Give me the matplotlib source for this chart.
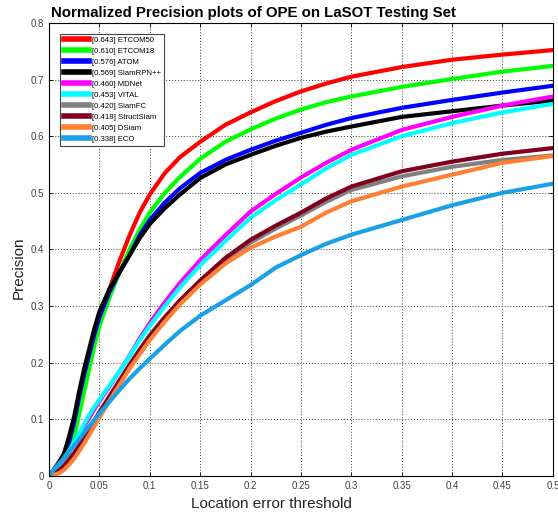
import numpy as np
import matplotlib
matplotlib.use("Agg")
import matplotlib.pyplot as plt

plt.rcParams['font.family'] = ['Liberation Sans', 'DejaVu Sans']

thresholds = [0, 0.005, 0.01, 0.015, 0.02, 0.025, 0.03, 0.035, 0.04, 0.045, 0.05,
              0.06, 0.07, 0.08, 0.09, 0.1, 0.115, 0.13, 0.15, 0.175, 0.2, 0.225,
              0.25, 0.275, 0.3, 0.35, 0.4, 0.45, 0.5]

trackers = ['ETCOM50', 'ETCOM18', 'ATOM', 'SiamRPN++', 'MDNet', 'VITAL',
            'SiamFC', 'StructSiam', 'DSiam', 'ECO']
scores = [0.643, 0.610, 0.576, 0.569, 0.460, 0.453, 0.420, 0.418, 0.405, 0.338]

etcom50 = [0, 0.005, 0.012, 0.025, 0.045, 0.08, 0.12, 0.16, 0.2, 0.24, 0.275,
           0.33, 0.38, 0.425, 0.465, 0.497, 0.535, 0.563, 0.59, 0.62, 0.642, 0.662,
           0.679, 0.693, 0.705, 0.722, 0.735, 0.744, 0.752]
etcom18 = [0, 0.005, 0.012, 0.022, 0.04, 0.07, 0.11, 0.15, 0.19, 0.23, 0.265,
           0.315, 0.36, 0.4, 0.435, 0.465, 0.5, 0.528, 0.56, 0.59, 0.612, 0.631,
           0.647, 0.66, 0.67, 0.687, 0.701, 0.714, 0.724]
atom = [0, 0.008, 0.02, 0.035, 0.06, 0.095, 0.14, 0.18, 0.215, 0.25, 0.28,
        0.325, 0.36, 0.39, 0.425, 0.452, 0.483, 0.508, 0.535, 0.558, 0.576, 0.592,
        0.606, 0.62, 0.632, 0.65, 0.664, 0.677, 0.689]
siamrpn = [0, 0.012, 0.025, 0.04, 0.07, 0.105, 0.15, 0.19, 0.225, 0.26, 0.29,
           0.33, 0.36, 0.39, 0.42, 0.445, 0.473, 0.497, 0.526, 0.55, 0.567, 0.583,
           0.597, 0.608, 0.617, 0.634, 0.644, 0.654, 0.663]
mdnet = [0, 0.008, 0.018, 0.03, 0.043, 0.057, 0.072, 0.088, 0.103, 0.118, 0.132,
         0.158, 0.185, 0.213, 0.243, 0.27, 0.307, 0.341, 0.381, 0.425, 0.467, 0.498,
         0.527, 0.553, 0.576, 0.611, 0.634, 0.654, 0.670]
vital = [0, 0.01, 0.02, 0.032, 0.045, 0.06, 0.075, 0.092, 0.108, 0.122, 0.135,
         0.16, 0.185, 0.212, 0.24, 0.265, 0.3, 0.333, 0.372, 0.415, 0.456, 0.487,
         0.515, 0.543, 0.567, 0.60, 0.623, 0.642, 0.657]
siamfc = [0, 0.004, 0.01, 0.018, 0.029, 0.041, 0.054, 0.068, 0.083, 0.098, 0.113,
          0.141, 0.169, 0.197, 0.224, 0.249, 0.281, 0.31, 0.344, 0.382, 0.412, 0.437,
          0.46, 0.484, 0.505, 0.529, 0.546, 0.558, 0.566]
structsiam = [0, 0.004, 0.01, 0.018, 0.028, 0.04, 0.053, 0.067, 0.082, 0.097, 0.112,
              0.14, 0.168, 0.196, 0.222, 0.247, 0.28, 0.31, 0.345, 0.385, 0.417, 0.442,
              0.465, 0.49, 0.511, 0.538, 0.555, 0.569, 0.579]
dsiam = [0, 0.002, 0.005, 0.011, 0.02, 0.031, 0.044, 0.058, 0.073, 0.088, 0.103,
         0.133, 0.161, 0.19, 0.215, 0.24, 0.273, 0.303, 0.338, 0.375, 0.403, 0.423,
         0.44, 0.465, 0.485, 0.511, 0.532, 0.553, 0.565]
eco = [0, 0.012, 0.022, 0.032, 0.043, 0.054, 0.065, 0.077, 0.088, 0.099, 0.11,
       0.131, 0.152, 0.172, 0.19, 0.207, 0.232, 0.256, 0.283, 0.31, 0.337, 0.368,
       0.39, 0.41, 0.426, 0.452, 0.478, 0.50, 0.516]

series = [etcom50, etcom18, atom, siamrpn, mdnet, vital, siamfc, structsiam, dsiam, eco]
colors = ['#ff0000', '#00ff00', '#0000ff', '#000000', '#ff00ff', '#00ffff',
          '#808080', '#800020', '#ff8033', '#1aa0e6']

fig = plt.figure(figsize=(5.58, 5.12), dpi=100)
ax = fig.add_axes([0.0878, 0.0703, 0.903, 0.885])

for name, sc, ys, c in zip(trackers, scores, series, colors):
    ax.plot(thresholds, ys, color=c, lw=3, label=f'[{sc:.3f}] {name}',
            solid_joinstyle='round')

ax.set_xlim(0, 0.5)
ax.set_ylim(0, 0.8)
xt = np.arange(0, 0.501, 0.05)
yt = np.arange(0, 0.801, 0.1)
ax.set_xticks(xt)
ax.set_yticks(yt)
ax.set_xticklabels([f'{v:g}' for v in np.round(xt, 2)])
ax.set_yticklabels([f'{v:g}' for v in np.round(yt, 1)])
ax.tick_params(direction='in', top=True, right=True, labelsize=7,
               labelcolor='#404040', length=3, width=0.6)
ax.grid(True, linestyle=(0, (1, 2)), color='#333333', linewidth=0.7)
for s in ax.spines.values():
    s.set_linewidth(0.8)

ax.set_xlabel('Location error threshold', fontsize=11, color='#222222')
ax.xaxis.set_label_coords(0.442, -0.047)
ax.set_ylabel('Precision', fontsize=11, color='#222222')
ax.yaxis.set_label_coords(-0.046, 0.46)
ax.set_title('Normalized Precision plots of OPE on LaSOT Testing Set',
             fontsize=10.8, fontweight='bold', x=0.405, pad=4)

leg = ax.legend(loc='upper left', fontsize=5.6, handlelength=3.3, handletextpad=0.3,
                labelspacing=0.45, borderpad=0.4, fancybox=False, framealpha=1,
                edgecolor='#444444', bbox_to_anchor=(0.015, 0.985))
leg.get_frame().set_linewidth(0.8)
for h in leg.get_lines():
    h.set_linewidth(4)

fig.savefig('out.png', dpi=100)
